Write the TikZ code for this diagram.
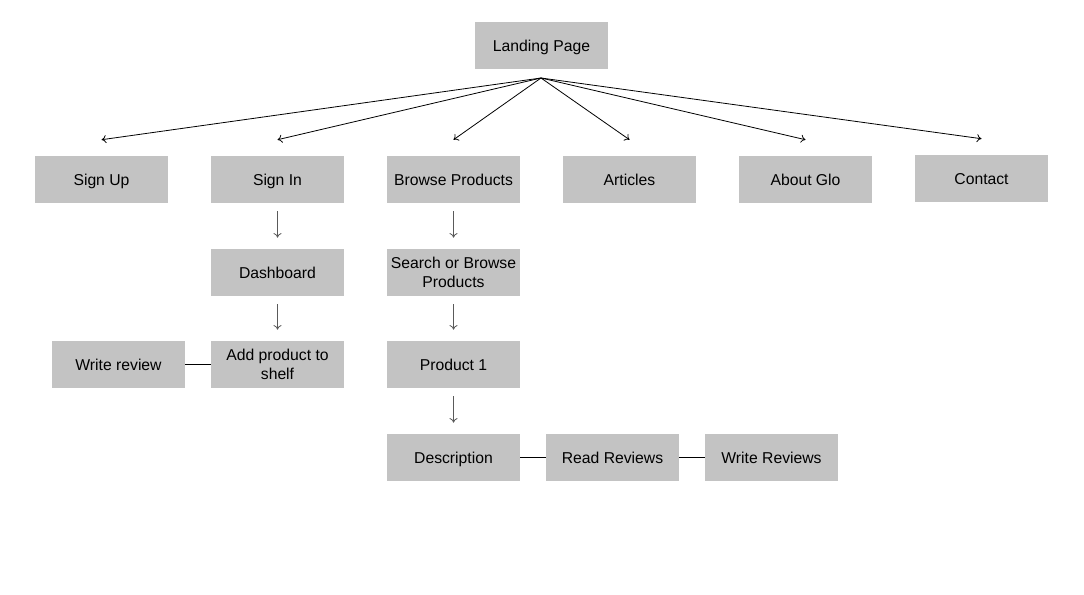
\documentclass[tikz,border=0pt]{standalone}
\usepackage{fontspec}
\setmainfont{Liberation Sans}
\usepackage{xcolor}
\usetikzlibrary{positioning, arrows.meta}
\definecolor{boxgray}{HTML}{C3C3C3}
\definecolor{arrgray}{HTML}{5A5A5A}

\begin{document}
\begin{tikzpicture}[
  x=0.75pt, y=-0.75pt,
  page/.style={fill=boxgray, inner sep=0pt,
               minimum width=99.75pt, minimum height=35.25pt,
               font=\fontsize{11.8}{14.25}\selectfont, align=center},
  oneline/.style={page, text height=11pt, text depth=1.8pt},
  arr/.style={-{To[length=3.5pt,width=6pt]}, line width=0.6pt},
  downarr/.style={arr, draw=arrgray, shorten <=6pt, shorten >=8.25pt},
  link/.style={line width=0.6pt}
]
\useasboundingbox (0,0) rectangle (1084,595);

% top level
\node[oneline] (lp) at (541.5,45.5) {Landing Page};
\coordinate (hub) at (541,78);

\node[oneline] (su) at (101.5,179.5) {Sign Up};
\node[oneline] (si) at (277.5,179.5) {Sign In};
\node[oneline] (bp) at (453.5,179.5) {Browse Products};
\node[oneline] (ar) at (629.5,179.5) {Articles};
\node[oneline] (ag) at (805.5,179.5) {About Glo};
\node[oneline] (ct) at (981.5,178.5) {Contact};

\foreach \n in {su, si, bp, ar, ag, ct}
  \coordinate (\n-in) at ([yshift=12pt]\n.north);
\foreach \n in {su, si, bp, ar, ag, ct}
  \draw[arr] (hub) -- (\n-in);

% sign in branch
\node[oneline] (db) at (277.5,272.5) {Dashboard};
\node[page] (ap) at (277.5,364.5) {Add product to\\shelf};
\node[oneline] (wr) at (118.5,364.5) {Write review};
\draw[downarr] (si) -- (db);
\draw[downarr] (db) -- (ap);
\draw[link] (wr) -- (ap);

% browse branch
\node[page] (sb) at (453.5,272.5) {Search or Browse\\Products};
\node[oneline] (p1) at (453.5,364.5) {Product 1};
\node[oneline] (de) at (453.5,457.5) {Description};
\node[oneline] (rr) at (612.5,457.5) {Read Reviews};
\node[oneline] (ws) at (771.5,457.5) {Write Reviews};
\draw[downarr] (bp) -- (sb);
\draw[downarr] (sb) -- (p1);
\draw[downarr] (p1) -- (de);
\draw[link] (de) -- (rr);
\draw[link] (rr) -- (ws);
\end{tikzpicture}
\end{document}
